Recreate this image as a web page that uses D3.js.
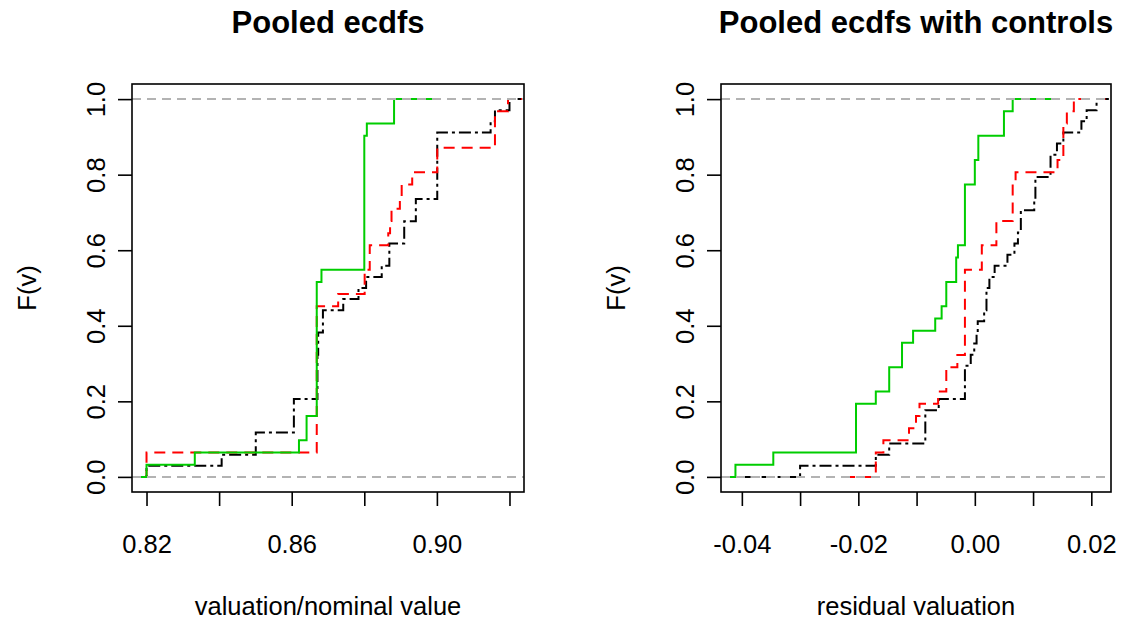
<!DOCTYPE html>
<html>
<head>
<meta charset="utf-8">
<script src="https://cdn.jsdelivr.net/npm/d3@7"></script>
<style>
  body { margin: 0; background: #fff; }
  svg { display: block; font-family: 'Liberation Sans', Arial, sans-serif; }
</style>
</head>
<body>
<div class="chart"></div>
<script>
// sample sizes of the three groups
const blackN = 34;
const redN = 31;
const greenN = 31;

// left panel: valuation / nominal value
const leftLimits = [0.82, 0.92];
const leftTicks = [0.82, 0.84, 0.86, 0.88, 0.90, 0.92];
const leftTickLabels = ['0.82', '', '0.86', '', '0.90', ''];

const leftBlackX = [0.8200, 0.8407, 0.8501, 0.8606, 0.8671, 0.8673, 0.8686, 0.8742, 0.8784, 0.8805,
  0.8848, 0.8869, 0.8910, 0.8942, 0.9001, 0.9148, 0.9160, 0.9200];
const leftBlackCount = [1, 2, 4, 7, 11, 13, 15, 16, 17, 18, 19, 21, 23, 25, 31, 32, 33, 34];

const leftRedX = [0.8200, 0.8669, 0.8728, 0.8801, 0.8815, 0.8866, 0.8871, 0.8875, 0.8898, 0.8903,
  0.8932, 0.9001, 0.9160, 0.9196];
const leftRedCount = [2, 14, 15, 17, 19, 20, 21, 22, 23, 24, 25, 27, 30, 31];

const leftGreenX = [0.8200, 0.8333, 0.8620, 0.8641, 0.8669, 0.8682, 0.8800, 0.8807, 0.8882];
const leftGreenCount = [1, 2, 3, 5, 16, 17, 28, 29, 31];

// right panel: residual valuation
const rightLimits = [-0.0411, 0.0209];
const rightTicks = [-0.04, -0.03, -0.02, -0.01, 0.00, 0.01, 0.02];
const rightTickLabels = ['-0.04', '', '-0.02', '', '0.00', '', '0.02'];

const rightBlackX = [-0.0300, -0.0170, -0.0147, -0.0085, -0.0062, -0.0017, -0.0007, -0.0001, 0.0003, 0.0005,
  0.0016, 0.0020, 0.0025, 0.0034, 0.0056, 0.0068, 0.0074, 0.0079, 0.0102, 0.0104,
  0.0130, 0.0141, 0.0152, 0.0183, 0.0192, 0.0209];
const rightBlackCount = [1, 2, 3, 6, 7, 10, 11, 12, 13, 14, 15, 17, 18, 19, 20, 21, 22, 24, 25, 27,
  29, 30, 31, 32, 33, 34];

const rightRedX = [-0.0170, -0.0157, -0.0113, -0.0101, -0.0095, -0.0063, -0.0049, -0.0030, -0.0017, 0.0012,
  0.0037, 0.0065, 0.0070, 0.0142, 0.0152, 0.0158, 0.0170];
const rightRedCount = [2, 3, 4, 5, 6, 7, 9, 10, 17, 19, 21, 24, 25, 26, 29, 30, 31];

const rightGreenX = [-0.0411, -0.0346, -0.0204, -0.0170, -0.0147, -0.0125, -0.0106, -0.0068, -0.0057, -0.0049,
  -0.0032, -0.0029, -0.0017, 0.0000, 0.0006, 0.0050, 0.0065];
const rightGreenCount = [1, 2, 6, 7, 9, 11, 12, 13, 14, 16, 18, 19, 24, 26, 28, 30, 31];

const yTicks = [0, 0.2, 0.4, 0.6, 0.8, 1.0];

const styles = {
  black: { color: '#000000', dash: '12,4,3,4' },
  red: { color: '#FF0000', dash: '11,7' },
  green: { color: '#00CD00', dash: null },
};

const panels = [
  {
    title: 'Pooled ecdfs', xlab: 'valuation/nominal value',
    box: { x0: 132, x1: 524 },
    limits: leftLimits, ticks: leftTicks, tickLabels: leftTickLabels,
    series: [
      { x: leftBlackX, count: leftBlackCount, n: blackN, ...styles.black },
      { x: leftRedX, count: leftRedCount, n: redN, ...styles.red },
      { x: leftGreenX, count: leftGreenCount, n: greenN, ...styles.green },
    ],
  },
  {
    title: 'Pooled ecdfs with controls', xlab: 'residual valuation',
    box: { x0: 721, x1: 1111 },
    limits: rightLimits, ticks: rightTicks, tickLabels: rightTickLabels,
    series: [
      { x: rightBlackX, count: rightBlackCount, n: blackN, ...styles.black },
      { x: rightRedX, count: rightRedCount, n: redN, ...styles.red },
      { x: rightGreenX, count: rightGreenCount, n: greenN, ...styles.green },
    ],
  },
];

const plotTop = 84;
const plotBottom = 492;

const svg = d3.select('.chart')
  .append('svg')
  .attr('width', 1125)
  .attr('height', 623);

const drawPanel = (panel, i) => {
  const { x0, x1 } = panel.box;
  const pad = (panel.limits[1] - panel.limits[0]) * 0.04;
  const x = d3.scaleLinear()
    .domain([panel.limits[0] - pad, panel.limits[1] + pad])
    .range([x0, x1]);
  const y = d3.scaleLinear()
    .domain([-0.04, 1.04])
    .range([plotBottom, plotTop]);

  const g = svg.append('g');

  g.append('clipPath')
    .attr('id', `clip${i}`)
    .append('rect')
    .attr('x', x0)
    .attr('y', plotTop)
    .attr('width', x1 - x0)
    .attr('height', plotBottom - plotTop);

  const plot = g.append('g').attr('clip-path', `url(#clip${i})`);

  const line = d3.line()
    .x(d => x(d[0]))
    .y(d => y(d[1]))
    .curve(d3.curveStepAfter);

  panel.series.forEach((s, j) => {
    // first ecdf runs across the whole plot, added ones stop 2*dr past their knots (like plot.stepfun)
    let from, to;
    if (j === 0) {
      from = x.domain()[0] - 1;
      to = x.domain()[1] + 1;
    } else {
      const dr = Math.max(0.08 * (d3.max(s.x) - d3.min(s.x)), d3.median(d3.pairs(s.x, (a, b) => b - a)));
      from = s.x[0] - 2 * dr;
      to = s.x[s.x.length - 1] + 2 * dr;
    }
    const pts = [[from, 0]]
      .concat(s.x.map((v, k) => [v, s.count[k] / s.n]))
      .concat([[to, s.count[s.count.length - 1] / s.n]]);

    plot.append('path')
      .attr('d', line(pts))
      .attr('fill', 'none')
      .attr('stroke', s.color)
      .attr('stroke-width', 2)
      .attr('stroke-dasharray', s.dash);
  });

  // gray reference lines at 0 and 1
  plot.selectAll('line.ref')
    .data([0, 1])
    .enter()
    .append('line')
    .attr('class', 'ref')
    .attr('x1', x0)
    .attr('x2', x1)
    .attr('y1', d => y(d))
    .attr('y2', d => y(d))
    .attr('stroke', '#B3B3B3')
    .attr('stroke-width', 2)
    .attr('stroke-dasharray', '9,6');

  g.append('rect')
    .attr('x', x0)
    .attr('y', plotTop)
    .attr('width', x1 - x0)
    .attr('height', plotBottom - plotTop)
    .attr('fill', 'none')
    .attr('stroke', '#000')
    .attr('stroke-width', 1.6);

  const xAxis = d3.axisBottom(x)
    .tickValues(panel.ticks)
    .tickFormat((d, k) => panel.tickLabels[k])
    .tickSize(14)
    .tickPadding(29);

  const xg = g.append('g')
    .attr('transform', `translate(0,${plotBottom})`)
    .call(xAxis);
  xg.select('.domain').remove();
  xg.selectAll('line').attr('stroke', '#000').attr('stroke-width', 1.6);
  xg.selectAll('text')
    .attr('font-size', '25.5px')
    .attr('font-family', "'Liberation Sans', Arial, sans-serif")
    .attr('fill', '#000');

  const yAxis = d3.axisLeft(y)
    .tickValues(yTicks)
    .tickFormat(d3.format('.1f'))
    .tickSize(14);

  const yg = g.append('g')
    .attr('transform', `translate(${x0},0)`)
    .call(yAxis);
  yg.select('.domain').remove();
  yg.selectAll('line').attr('stroke', '#000').attr('stroke-width', 1.6);
  yg.selectAll('text')
    .attr('x', null)
    .attr('dy', '0.35em')
    .attr('text-anchor', 'middle')
    .attr('transform', 'translate(-36,0) rotate(-90)')
    .attr('font-size', '25.5px')
    .attr('font-family', "'Liberation Sans', Arial, sans-serif")
    .attr('fill', '#000');

  g.append('text')
    .attr('x', (x0 + x1) / 2)
    .attr('y', 33)
    .attr('text-anchor', 'middle')
    .attr('font-size', '31px')
    .attr('font-weight', 'bold')
    .text(panel.title);

  g.append('text')
    .attr('x', (x0 + x1) / 2)
    .attr('y', 615)
    .attr('text-anchor', 'middle')
    .attr('font-size', '25.5px')
    .text(panel.xlab);

  g.append('text')
    .attr('transform', `translate(${x0 - 105},${(plotTop + plotBottom) / 2}) rotate(-90)`)
    .attr('dy', '0.35em')
    .attr('text-anchor', 'middle')
    .attr('font-size', '25.5px')
    .text('F(v)');
};

panels.forEach(drawPanel);
</script>
</body>
</html>
